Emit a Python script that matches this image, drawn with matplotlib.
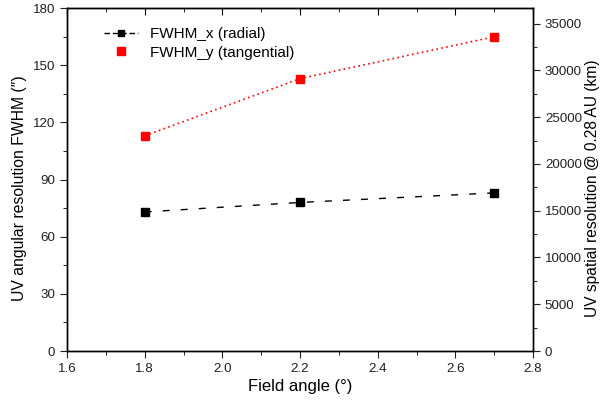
import matplotlib.pyplot as plt
from matplotlib.lines import Line2D
import matplotlib.ticker as ticker

plt.rcParams['font.family'] = ['Liberation Sans', 'DejaVu Sans']

# field angle (deg) and resolution FWHM (arcsec)
fieldAngle = [1.8, 2.2, 2.7]
fwhmX = [73, 78, 83]
fwhmY = [113, 143, 165]

fig = plt.figure(figsize=(6.01, 4.09), dpi=100)
ax = fig.add_axes([0.1115, 0.1418, 0.7755, 0.8382])

ax.plot(fieldAngle, fwhmX, color='black', linestyle=(0, (5, 8)), linewidth=1,
        marker='s', markersize=6)
ax.plot(fieldAngle, fwhmY, color='red', linestyle=(0, (1, 2)), linewidth=1.2,
        marker='s', markersize=6)

ax.set_xlim(1.6, 2.8)
ax.set_ylim(0, 180)
ax.xaxis.set_major_locator(ticker.MultipleLocator(0.2))
ax.xaxis.set_minor_locator(ticker.MultipleLocator(0.1))
ax.yaxis.set_major_locator(ticker.MultipleLocator(30))
ax.yaxis.set_minor_locator(ticker.MultipleLocator(15))
ax.xaxis.set_major_formatter(ticker.FormatStrFormatter('%.1f'))
ax.tick_params(which='major', direction='out', length=5, labelsize=9.6, colors='#222222')
ax.tick_params(which='minor', direction='out', length=3)

# top axis ticks pointing inward, no labels
top = ax.secondary_xaxis('top')
top.xaxis.set_major_locator(ticker.MultipleLocator(0.2))
top.xaxis.set_minor_locator(ticker.MultipleLocator(0.1))
top.tick_params(which='major', direction='in', length=5, labeltop=False)
top.tick_params(which='minor', direction='in', length=3)

ax.set_xlabel("Field angle (°)", fontsize=12, labelpad=3)
ax.set_ylabel("UV angular resolution FWHM (″)", fontsize=11.3, y=0.474)

# right axis in km at 0.28 AU
ax2 = ax.twinx()
ax2.set_ylim(0, 36650)
ax2.yaxis.set_major_locator(ticker.MultipleLocator(5000))
ax2.yaxis.set_minor_locator(ticker.MultipleLocator(2500))
ax2.tick_params(which='major', direction='out', length=5, labelsize=9.6, colors='#222222')
ax2.tick_params(which='minor', direction='out', length=3)
ax2.set_ylabel("UV spatial resolution @ 0.28 AU (km)", fontsize=11.2)
ax2.yaxis.set_label_coords(1.111, 0.474)

for a in [ax, ax2]:
    for s in a.spines.values():
        s.set_linewidth(1.0)

handles = [
    Line2D([], [], color='black', linestyle=(0, (4, 2)), linewidth=1, marker='s', markersize=5),
    Line2D([], [], color='red', linestyle='none', marker='s', markersize=6),
]
ax.legend(handles, ["FWHM_x (radial)", "FWHM_y (tangential)"], loc='upper left',
          bbox_to_anchor=(0.05, 0.985), frameon=False, fontsize=11, handlelength=2.2,
          labelspacing=0.3)

plt.savefig("out.png", dpi=100)
